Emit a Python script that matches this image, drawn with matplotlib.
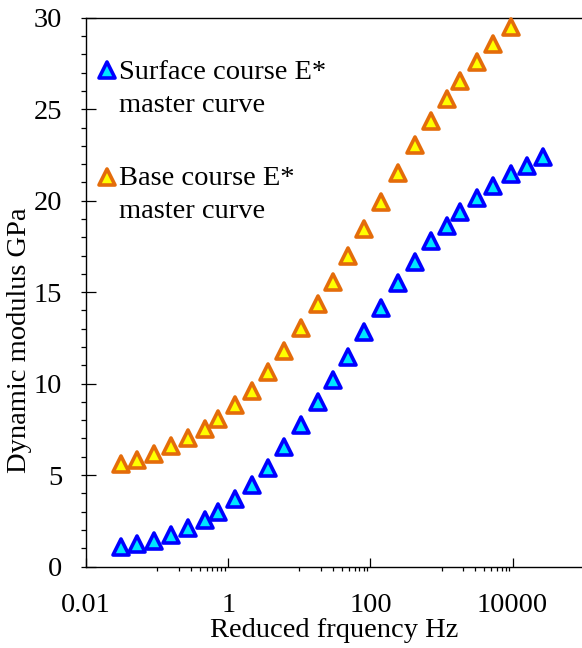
import matplotlib
matplotlib.use("Agg")
import matplotlib.pyplot as plt
from matplotlib.ticker import FixedLocator, MultipleLocator, NullFormatter
from matplotlib.lines import Line2D
from matplotlib.markers import MarkerStyle

# ---------------- data ----------------
freq_hz = [0.031, 0.053, 0.090, 0.157, 0.275, 0.47, 0.73, 1.25, 2.14, 3.67,
           6.15, 10.6, 18.6, 29.5, 48.0, 81.3, 141, 247, 424, 723,
           1183, 1820, 3126, 5350, 9400, 15800, 27000]
surface_gpa = [1.05, 1.23, 1.41, 1.72, 2.09, 2.54, 2.99, 3.67, 4.48, 5.38,
               6.51, 7.72, 8.97, 10.17, 11.46, 12.81, 14.16, 15.49, 16.66, 17.79,
               18.59, 19.37, 20.17, 20.83, 21.46, 21.90, 22.38]
base_gpa = [5.62, 5.84, 6.13, 6.57, 7.04, 7.53, 8.08, 8.83, 9.61, 10.64,
            11.78, 13.03, 14.33, 15.58, 16.95, 18.44, 19.92, 21.49, 23.02, 24.38,
            25.55, 26.55, 27.58, 28.59, 29.52]
x_major_ticks = [0.01, 1, 100, 10000]
x_major_labels = ["0.01", "1", "100", "10000"]
x_minor_ticks = [m * 10.0 ** e for e in (-1, 1, 3) for m in range(1, 10)]
surface_label = ["Surface course E*", "master curve"]
base_label = ["Base course E*", "master curve"]
x_title = "Reduced frquency Hz"
y_title = "Dynamic modulus GPa"

# ---------------- style ----------------
plt.rcParams['font.family'] = ['Liberation Serif', 'DejaVu Serif']
FS = 20.5
W, H = 582, 648
BLUE_E, BLUE_F = "#0000FF", "#00E5FF"
ORG_E, ORG_F = "#E46C0A", "#FFFF00"
MS, MEW = 11.5, 2.6
TRI = MarkerStyle("^", joinstyle="round")

fig = plt.figure(figsize=(W / 100, H / 100), dpi=100)
ax_l, ax_r, ax_t, ax_b = 86.0, 583.7, 17.8, 566.5
ax = fig.add_axes([ax_l / W, 1 - ax_b / H, (ax_r - ax_l) / W, (ax_b - ax_t) / H])

mk = dict(linestyle="none", marker=TRI, markersize=MS, markeredgewidth=MEW, clip_on=False)
ax.plot(freq_hz[:len(surface_gpa)], surface_gpa, markeredgecolor=BLUE_E,
        markerfacecolor=BLUE_F, zorder=3, **mk)
ax.plot(freq_hz[:len(base_gpa)], base_gpa, markeredgecolor=ORG_E,
        markerfacecolor=ORG_F, zorder=3, **mk)

ax.set_xscale("log")
ax.set_xlim(0.01, 1e5)
ax.set_ylim(0, 30)

ax.xaxis.set_major_locator(FixedLocator(x_major_ticks))
ax.set_xticklabels(x_major_labels)
ax.xaxis.set_minor_locator(FixedLocator(x_minor_ticks))
ax.xaxis.set_minor_formatter(NullFormatter())
ax.yaxis.set_major_locator(MultipleLocator(5))
ax.yaxis.set_minor_locator(MultipleLocator(1))
ax.yaxis.remove_overlapping_locs = False

ax.tick_params(axis="x", which="major", direction="in", length=6.5, width=0.9,
               pad=19, labelsize=FS, top=False)
ax.tick_params(axis="x", which="minor", direction="out", length=3, width=0.9, top=False)
ax.tick_params(axis="y", which="major", direction="in", length=7.2, width=0.9,
               pad=17, labelsize=FS, right=False)
ax.tick_params(axis="y", which="minor", direction="out", length=3.6, width=0.9, right=False)

for s in ("left", "bottom", "top"):
    ax.spines[s].set_linewidth(1.0)
ax.spines["right"].set_visible(False)

ax.set_xlabel(x_title, fontsize=FS)
ax.xaxis.set_label_coords((333.8 - ax_l) / (ax_r - ax_l), (ax_b - 617.8) / (ax_b - ax_t))
ax.set_ylabel(y_title, fontsize=FS)
ylab = ax.yaxis.label
ylab.set_rotation_mode("default")
ylab.set_va("center")
ylab.set_ha("center")
ax.yaxis.set_label_coords((20 - ax_l) / (ax_r - ax_l), (ax_b - 340) / (ax_b - ax_t))

# ---------------- legend (manual, Excel style) ----------------
def fx(px):
    return px / W

def fy(py):
    return 1 - py / H

for (my, ec, fc, lines, b1, b2) in [
        (70, BLUE_E, BLUE_F, surface_label, 79, 111.7),
        (177, ORG_E, ORG_F, base_label, 185, 218)]:
    fig.add_artist(Line2D([fx(107)], [fy(my)], transform=fig.transFigure,
                          linestyle="none", marker=TRI, markersize=MS,
                          markeredgewidth=MEW, markeredgecolor=ec, markerfacecolor=fc))
    fig.text(fx(119.3), fy(b1), lines[0], fontsize=FS, va="baseline", ha="left")
    fig.text(fx(119.3), fy(b2), lines[1], fontsize=FS, va="baseline", ha="left")

fig.savefig("out.png", dpi=100)
